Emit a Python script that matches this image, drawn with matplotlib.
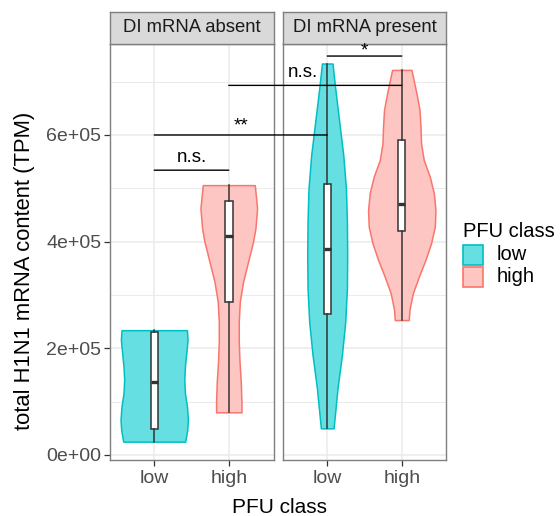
import matplotlib
matplotlib.use("Agg")
import matplotlib.pyplot as plt
from matplotlib.patches import Rectangle, ConnectionPatch

plt.rcParams["font.family"] = ["Liberation Sans", "DejaVu Sans"]

# ---- data ----
facets = ["DI mRNA absent", "DI mRNA present"]
groups = ["low", "high"]

# violin outlines: y values and half-widths (x units)
absent_low_y = [25e3, 47e3, 66e3, 91e3, 116e3, 141e3, 166e3, 191e3, 216e3, 234e3]
absent_low_hw = [0.416, 0.443, 0.452, 0.439, 0.412, 0.403, 0.412, 0.430, 0.447, 0.439]
absent_high_y = [80e3, 100e3, 137.5e3, 175e3, 212.5e3, 250e3, 287.5e3, 325e3, 362.5e3,
                 400e3, 425e3, 462.5e3, 506e3]
absent_high_hw = [0.170, 0.170, 0.161, 0.144, 0.134, 0.134, 0.148, 0.192, 0.259,
                  0.326, 0.358, 0.380, 0.349]
present_low_y = [50e3, 75e3, 125e3, 187.5e3, 250e3, 312.5e3, 375e3, 437.5e3, 500e3,
                 562.5e3, 625e3, 687.5e3, 734e3]
present_low_hw = [0.085, 0.103, 0.138, 0.197, 0.242, 0.264, 0.268, 0.264, 0.251,
                  0.215, 0.161, 0.107, 0.071]
present_high_y = [253e3, 272e3, 303e3, 334e3, 366e3, 397e3, 428e3, 459e3, 491e3,
                  522e3, 553e3, 584e3, 616e3, 647e3, 678e3, 722e3]
present_high_hw = [0.094, 0.103, 0.148, 0.228, 0.318, 0.393, 0.443, 0.452, 0.430,
                   0.376, 0.295, 0.259, 0.251, 0.238, 0.197, 0.130]

# boxplot five-number summaries: min, q1, median, q3, max
absent_low_box = [25e3, 48e3, 137.5e3, 231e3, 234e3]
absent_high_box = [80e3, 287.5e3, 410.6e3, 476e3, 506e3]
present_low_box = [50e3, 264.4e3, 385.6e3, 507.5e3, 734e3]
present_high_box = [253e3, 420.6e3, 470.6e3, 590.6e3, 722e3]

# significance brackets: (facet, group) -> (facet, group), y, label
bracket_from = [(0, 0), (0, 0), (0, 1), (1, 0)]
bracket_to = [(0, 1), (1, 0), (1, 1), (1, 1)]
bracket_y = [534e3, 600e3, 693e3, 748e3]
bracket_labels = ["n.s.", "**", "n.s.", "*"]

violins = {
    (0, 0): (absent_low_y, absent_low_hw, absent_low_box),
    (0, 1): (absent_high_y, absent_high_hw, absent_high_box),
    (1, 0): (present_low_y, present_low_hw, present_low_box),
    (1, 1): (present_high_y, present_high_hw, present_high_box),
}

EDGE = ["#00BFC4", "#F8766D"]
FILL = ["#66DFE2", "#FDC6C2"]
BORDER = "#7F7F7F"
GRID = "#EBEBEB"

W, H = 560, 516


def fx(x):
    return x / W


def fy(y):
    return 1 - y / H


fig = plt.figure(figsize=(5.6, 5.16), dpi=100)

panel_x = [109.5, 282.5]
axes = []
for i, facet in enumerate(facets):
    ax = fig.add_axes([fx(panel_x[i]), fy(460), 164 / W, 416 / H])
    ax.set_xlim(0.4, 2.6)
    ax.set_ylim(-9.4e3, 770.6e3)
    ax.set_yticks([0, 2e5, 4e5, 6e5])
    ax.set_yticks([1e5, 3e5, 5e5, 7e5], minor=True)
    ax.set_xticks([1, 2])
    ax.set_xticklabels(groups)
    ax.grid(True, which="major", color=GRID, lw=1.1, zorder=0)
    ax.grid(True, which="minor", axis="y", color=GRID, lw=0.7, zorder=0)
    ax.set_axisbelow(True)
    for sp in ax.spines.values():
        sp.set_color(BORDER)
        sp.set_linewidth(1.0)
    ax.tick_params(axis="x", length=4, width=0.9, color="#333333", pad=3,
                   labelsize=14, labelcolor="#4D4D4D")
    ax.tick_params(axis="y", which="minor", length=0)
    if i == 0:
        ax.set_yticklabels(["0e+00", "2e+05", "4e+05", "6e+05"])
        ax.tick_params(axis="y", length=4, width=0.9, color="#333333", pad=2,
                       labelsize=14, labelcolor="#4D4D4D")
    else:
        ax.tick_params(axis="y", which="both", length=0, labelleft=False)

    for g in range(2):
        ys, hw, box = violins[(i, g)]
        x0 = g + 1
        left = [x0 - w for w in hw]
        right = [x0 + w for w in hw]
        ax.fill_betweenx(ys, left, right, facecolor=FILL[g], edgecolor=EDGE[g],
                         lw=1.1, zorder=2)
        stats = [{"whislo": box[0], "q1": box[1], "med": box[2], "q3": box[3],
                  "whishi": box[4]}]
        ax.bxp(stats, positions=[x0], widths=0.1, showcaps=False, showfliers=False,
               patch_artist=True, manage_ticks=False, zorder=3,
               boxprops=dict(facecolor="white", edgecolor="#333333", lw=1.1),
               whiskerprops=dict(color="#333333", lw=1.1),
               medianprops=dict(color="#333333", lw=2.4, solid_capstyle="butt"))

    # strip
    sax = fig.add_axes([fx(panel_x[i]), fy(43.5), 164 / W, 32 / H])
    sax.set_facecolor("#D9D9D9")
    sax.set_xticks([])
    sax.set_yticks([])
    for sp in sax.spines.values():
        sp.set_color(BORDER)
        sp.set_linewidth(1.0)
    sax.text(0.5, 0.5, facet, transform=sax.transAxes, ha="center", va="center",
             fontsize=13.3, color="#1A1A1A")
    axes.append(ax)

# significance brackets (may span both panels)
for (fa, ga), (fb, gb), y, lab in zip(bracket_from, bracket_to, bracket_y, bracket_labels):
    con = ConnectionPatch(xyA=(ga + 1, y), coordsA=axes[fa].transData,
                          xyB=(gb + 1, y), coordsB=axes[fb].transData,
                          color="black", lw=1.0, zorder=5)
    fig.add_artist(con)
    pa = axes[fa].transData.transform((ga + 1, y))
    pb = axes[fb].transData.transform((gb + 1, y))
    frac = 0.43 if (fa != fb and lab == "n.s.") else 0.5
    xm = pa[0] + frac * (pb[0] - pa[0])
    xf, yf = fig.transFigure.inverted().transform((xm, pa[1]))
    off = 4 if lab == "n.s." else (1 if lab == "**" else -3)
    fig.text(xf, yf + off / H, lab, ha="center", va="bottom", fontsize=13.5)

# axis titles
fig.text(fx(25), fy(271), "total H1N1 mRNA content (TPM)", rotation=90,
         ha="center", va="center", fontsize=15.8)
fig.text(fx(280), fy(513), "PFU class", ha="center", va="baseline", fontsize=15)

# legend
fig.text(fx(463), fy(237), "PFU class", ha="left", va="baseline", fontsize=14.5)
for g, lab in enumerate(groups):
    top = 245 + g * 22
    fig.add_artist(Rectangle((fx(463), fy(top + 20)), 20 / W, 20 / H,
                             transform=fig.transFigure, facecolor=FILL[g],
                             edgecolor=EDGE[g], lw=1.2))
    fig.text(fx(497), fy(top + 10), lab, ha="left", va="center", fontsize=14.5)

fig.savefig("out.png", dpi=100)
